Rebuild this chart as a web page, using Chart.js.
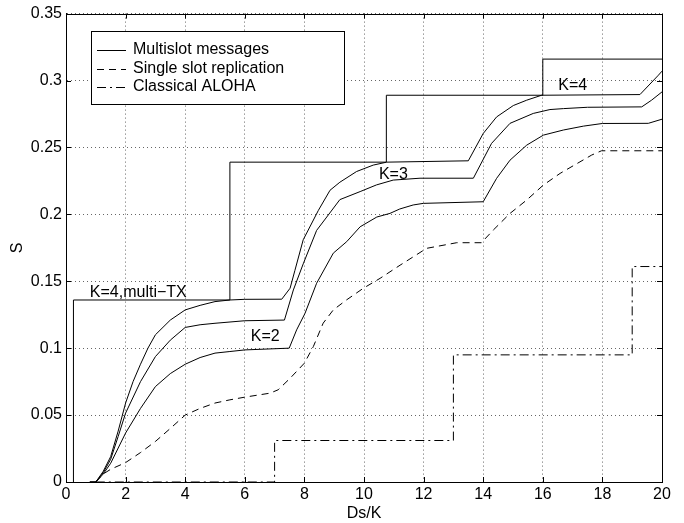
<!DOCTYPE html>
<html>
<head>
<meta charset="utf-8">
<script src="https://cdn.jsdelivr.net/npm/chart.js@4.4.1/dist/chart.umd.min.js"></script>
<style>
html,body{margin:0;padding:0;background:#fff;}
#wrap{width:684px;height:523px;}
</style>
</head>
<body>
<div id="wrap"><canvas id="c" width="684" height="523"></canvas></div>
<script>
// ---- data ----
const xTicks = [0, 2, 4, 6, 8, 10, 12, 14, 16, 18, 20];
const yTicks = [0, 0.05, 0.1, 0.15, 0.2, 0.25, 0.3, 0.35];

// Multislot messages, K=4
const k4X = [0.8, 1.0, 1.25, 1.5, 1.75, 2, 2.25, 2.5, 2.75, 3, 3.5, 4, 4.5, 5, 5.5, 6, 7.24, 7.52, 7.68, 7.96, 8.47, 8.86, 9.19, 9.75, 10.31, 10.76, 13.5, 14.0, 14.45, 15.01, 15.46, 15.96, 19.26, 19.88, 20];
const k4Y = [0, 0, 0.008, 0.019, 0.038, 0.059, 0.075, 0.088, 0.100, 0.110, 0.121, 0.1286, 0.132, 0.1348, 0.136, 0.1365, 0.1366, 0.1448, 0.158, 0.181, 0.203, 0.218, 0.224, 0.232, 0.2368, 0.239, 0.240, 0.2604, 0.2728, 0.2813, 0.2853, 0.289, 0.2895, 0.304, 0.307];

// Multislot messages, K=3
const k3X = [0.8, 1.0, 1.25, 1.5, 1.75, 2, 2.5, 3, 3.5, 4, 4.5, 5, 6, 7.33, 7.63, 7.96, 8.41, 8.75, 9.19, 9.87, 10.42, 10.98, 11.88, 13.67, 14.28, 14.9, 15.68, 16.24, 16.69, 17.5, 19.32, 19.65, 20];
const k3Y = [0, 0, 0.007, 0.017, 0.034, 0.0515, 0.075, 0.0937, 0.106, 0.1155, 0.1175, 0.1186, 0.1205, 0.121, 0.1435, 0.163, 0.188, 0.198, 0.211, 0.217, 0.222, 0.2256, 0.227, 0.227, 0.253, 0.268, 0.2754, 0.2783, 0.279, 0.280, 0.2803, 0.2853, 0.2915];

// Multislot messages, K=2
const k2X = [0.8, 1.0, 1.25, 1.5, 2, 2.5, 3, 3.5, 4, 4.5, 5, 5.5, 6, 7.49, 7.74, 8.02, 8.41, 8.97, 9.42, 9.87, 10.43, 10.87, 11.2, 11.65, 11.99, 14.0, 14.45, 14.9, 15.46, 16.02, 16.69, 17.36, 18.0, 19.54, 20];
const k2Y = [0, 0, 0.006, 0.014, 0.0366, 0.055, 0.0713, 0.081, 0.088, 0.093, 0.0963, 0.0975, 0.0987, 0.100, 0.1137, 0.126, 0.1485, 0.171, 0.1796, 0.1907, 0.198, 0.2007, 0.204, 0.207, 0.2082, 0.2094, 0.2269, 0.2405, 0.2517, 0.2592, 0.263, 0.2659, 0.2679, 0.268, 0.2711];

// Single slot replication
const ssrX = [1.0, 1.25, 1.5, 2, 2.5, 3, 3.5, 4, 4.5, 5, 5.5, 6, 6.85, 7.12, 7.52, 8.0, 8.3, 8.63, 8.97, 9.41, 9.98, 10.54, 11.21, 12.1, 13.11, 13.94, 14.34, 14.9, 15.46, 16.02, 16.58, 17.64, 17.97, 20];
const ssrY = [0, 0.006, 0.0095, 0.0145, 0.022, 0.0303, 0.040, 0.050, 0.055, 0.059, 0.0614, 0.0634, 0.0664, 0.0689, 0.0775, 0.0888, 0.1012, 0.1187, 0.1286, 0.136, 0.1448, 0.1522, 0.162, 0.1746, 0.1788, 0.1788, 0.1883, 0.2007, 0.2107, 0.2219, 0.2306, 0.2443, 0.2475, 0.2475];

// Classical ALOHA (staircase, value reached at each x)
const alohaX = [1.0, 7.0, 13.0, 19.0, 20];
const alohaY = [0, 0.031, 0.095, 0.161, 0.161];

// K=4, multi-TX (staircase, value reached at each x)
const mtxX = [0.25, 0.25, 5.5, 10.75, 16.0, 20];
const mtxY = [0, 0.136, 0.239, 0.289, 0.316, 0.316];

const legendLabels = ['Multislot messages', 'Single slot replication', 'Classical ALOHA'];
const annotations = [
  {text: 'K=4,multi\u2212TX', x: 0.8, y: 0.1417},
  {text: 'K=2', x: 6.2, y: 0.1087},
  {text: 'K=3', x: 10.5, y: 0.230},
  {text: 'K=4', x: 16.52, y: 0.2965}
];
const xTitle = 'Ds/K';
const yTitle = 'S';

// ---- chart ----
const pts = (xs, ys) => xs.map((x, i) => ({x: x, y: ys[i]}));
const FONT = '"Liberation Sans", Arial, Helvetica, sans-serif';
const FS = 16;
const DASH = [7, 5];
const DASHDOT = [9, 4, 2, 4];

const base = {pointRadius: 0, borderWidth: 1, borderColor: '#000', backgroundColor: '#000', fill: false, tension: 0};

const frameAndDecor = {
  id: 'frameAndDecor',
  afterDatasetsDraw(chart) {
    const {ctx, chartArea: a, scales: {x, y}} = chart;
    ctx.save();
    ctx.strokeStyle = '#000';
    ctx.lineWidth = 1;
    ctx.setLineDash([]);
    ctx.strokeRect(Math.round(a.left) + 0.5, Math.round(a.top) + 0.5, Math.round(a.right - a.left), Math.round(a.bottom - a.top));
    const tl = 5;
    ctx.beginPath();
    xTicks.forEach(v => {
      const px = Math.round(x.getPixelForValue(v)) + 0.5;
      ctx.moveTo(px, a.bottom); ctx.lineTo(px, a.bottom - tl);
      ctx.moveTo(px, a.top); ctx.lineTo(px, a.top + tl);
    });
    yTicks.forEach(v => {
      const py = Math.round(y.getPixelForValue(v)) + 0.5;
      ctx.moveTo(a.left, py); ctx.lineTo(a.left + tl, py);
      ctx.moveTo(a.right, py); ctx.lineTo(a.right - tl, py);
    });
    ctx.stroke();
    ctx.fillStyle = '#000';
    ctx.font = FS + 'px ' + FONT;
    ctx.textBaseline = 'middle';
    ctx.textAlign = 'left';
    annotations.forEach(an => {
      ctx.fillText(an.text, x.getPixelForValue(an.x), y.getPixelForValue(an.y));
    });
    const bx = 91, by = 31, bw = 253, bh = 73;
    ctx.fillStyle = '#fff';
    ctx.fillRect(bx, by, bw, bh);
    ctx.strokeStyle = '#000';
    ctx.strokeRect(bx + 0.5, by + 0.5, bw, bh);
    const rows = [50, 68.5, 87];
    const dashes = [[], DASH, DASHDOT];
    rows.forEach((ry, i) => {
      ctx.beginPath();
      ctx.setLineDash(dashes[i]);
      ctx.moveTo(97, Math.round(ry) + 0.5);
      ctx.lineTo(126, Math.round(ry) + 0.5);
      ctx.stroke();
      ctx.setLineDash([]);
      ctx.fillStyle = '#000';
      ctx.fillText(legendLabels[i], 133, ry);
    });
    ctx.restore();
  }
};

new Chart(document.getElementById('c'), {
  type: 'line',
  data: {
    datasets: [
      Object.assign({label: 'Multislot messages K=4', data: pts(k4X, k4Y)}, base),
      Object.assign({label: 'Multislot messages K=3', data: pts(k3X, k3Y)}, base),
      Object.assign({label: 'Multislot messages K=2', data: pts(k2X, k2Y)}, base),
      Object.assign({label: 'Single slot replication', data: pts(ssrX, ssrY), borderDash: DASH}, base),
      Object.assign({label: 'Classical ALOHA', data: pts(alohaX, alohaY), borderDash: DASHDOT, stepped: 'before'}, base),
      Object.assign({label: 'K=4, multi-TX', data: pts(mtxX, mtxY), stepped: 'before'}, base)
    ]
  },
  options: {
    responsive: false,
    animation: false,
    devicePixelRatio: 1,
    layout: {padding: {top: 13, right: 22, left: 0, bottom: 0}},
    plugins: {legend: {display: false}, tooltip: {enabled: false}},
    scales: {
      x: {
        type: 'linear', min: 0, max: 20,
        afterBuildTicks(s) { s.ticks = xTicks.map(v => ({value: v})); },
        afterFit(s) { s.height = 41; },
        ticks: {color: '#000', font: {family: FONT, size: FS}, padding: 3, maxRotation: 0, autoSkip: false, callback: v => String(v)},
        grid: {color: '#666', drawTicks: false, lineWidth: 1},
        border: {display: true, color: '#000', dash: [1, 3]},
        title: {display: true, text: xTitle, color: '#000', font: {family: FONT, size: FS}, padding: {top: 0, bottom: 0}}
      },
      y: {
        type: 'linear', min: 0, max: 0.35,
        afterBuildTicks(s) { s.ticks = yTicks.map(v => ({value: v})); },
        afterFit(s) { s.width = 66; },
        ticks: {color: '#000', font: {family: FONT, size: FS}, padding: 4, autoSkip: false, callback: v => String(Math.round(v * 100) / 100)},
        grid: {color: '#666', drawTicks: false, lineWidth: 1},
        border: {display: true, color: '#000', dash: [1, 3]},
        title: {display: true, text: yTitle, color: '#000', font: {family: FONT, size: FS}, padding: {top: 8, bottom: 0}}
      }
    }
  },
  plugins: [frameAndDecor]
});
</script>
</body>
</html>
